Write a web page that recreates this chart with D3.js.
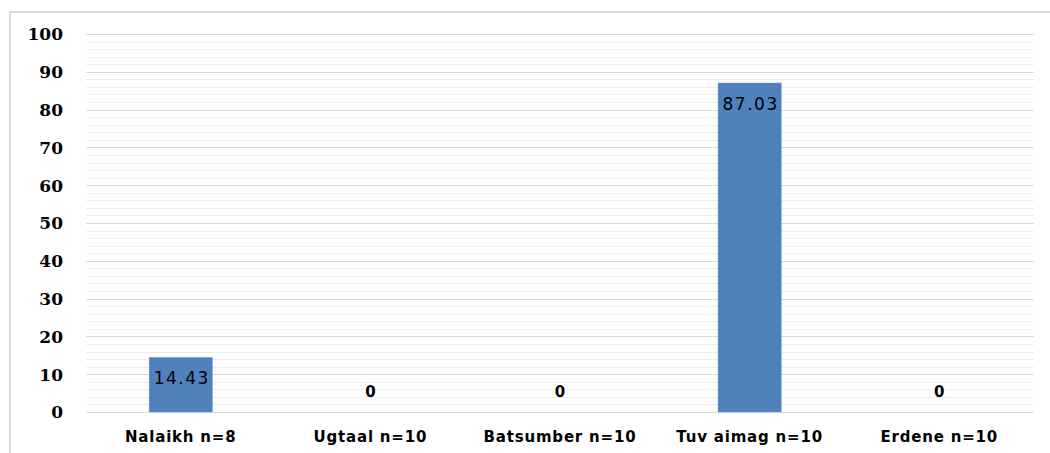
<!DOCTYPE html>
<html><head><meta charset="utf-8">
<script src="https://cdn.jsdelivr.net/npm/d3@7"></script>
<style>body{margin:0;background:#fff;}svg{display:block;}</style>
</head><body>
<svg id="chart" width="1050" height="453"></svg>
<script>
const categories = ["Nalaikh n=8", "Ugtaal n=10", "Batsumber n=10", "Tuv aimag n=10", "Erdene n=10"];
const values = [14.43, 0, 0, 87.03, 0];
const labels = ["14.43", "0", "0", "87.03", "0"];
const yTicks = [0, 10, 20, 30, 40, 50, 60, 70, 80, 90, 100];
const yMinorTicks = d3.range(0, 101, 2);

const svg = d3.select("#chart");
svg.append("rect").attr("x", 10).attr("y", 12).attr("width", 1050).attr("height", 460)
  .attr("fill", "#fff").attr("stroke", "#d9d9d9").attr("stroke-width", 2);

const x = d3.scaleBand().domain(categories).range([86, 1034]).paddingInner(0.667).paddingOuter(0.333);
const y = d3.scaleLinear().domain([0, 100]).range([412, 34]);

svg.append("g").selectAll("line").data(yMinorTicks.filter(v => v % 10 !== 0)).join("line")
  .attr("x1", 86).attr("x2", 1034).attr("y1", d => Math.round(y(d)) + 0.5).attr("y2", d => Math.round(y(d)) + 0.5)
  .attr("stroke", "#ededed").attr("stroke-width", 1);
svg.append("g").selectAll("line").data(yTicks).join("line")
  .attr("x1", 86).attr("x2", 1034).attr("y1", d => Math.round(y(d)) + 0.5).attr("y2", d => Math.round(y(d)) + 0.5)
  .attr("stroke", "#d9d9d9").attr("stroke-width", 1);

const yAxis = d3.axisLeft(y).tickValues(yTicks).tickSize(0).tickPadding(0);
const ga = svg.append("g").attr("transform", "translate(63,0)").call(yAxis);
ga.select(".domain").remove();
ga.selectAll("text").attr("font-family", "DejaVu Serif").attr("font-weight", "bold")
  .attr("font-size", 17).attr("fill", "#000").attr("dy", "0.35em");

svg.append("g").selectAll("rect").data(values).join("rect")
  .attr("x", (d, i) => x(categories[i])).attr("width", x.bandwidth())
  .attr("y", d => y(d)).attr("height", d => y(0) - y(d))
  .attr("fill", "#4f81bd").attr("stroke", "#6a95cc").attr("stroke-width", 0.5);

svg.append("g").selectAll("text").data(values).join("text")
  .attr("x", (d, i) => x(categories[i]) + x.bandwidth() / 2 + (d > 0 ? 1 : 0))
  .attr("y", d => d > 0 ? y(d) + 21 : y(0) - 20)
  .attr("dy", "0.35em").attr("text-anchor", "middle")
  .attr("font-family", "DejaVu Sans")
  .attr("font-size", d => d > 0 ? 17 : 15)
  .attr("font-weight", d => d > 0 ? "normal" : "bold")
  .attr("letter-spacing", d => d > 0 ? 1.5 : 0)
  .attr("fill", "#000").text((d, i) => labels[i]);

const xAxis = d3.axisBottom(x).tickSize(0).tickPadding(0);
const gx = svg.append("g").attr("transform", "translate(0,437)").call(xAxis);
gx.select(".domain").remove();
gx.selectAll("text").attr("font-family", "DejaVu Sans").attr("font-weight", "bold")
  .attr("font-size", 15).attr("letter-spacing", 0.8).attr("fill", "#000").attr("dy", "0.35em");
</script>
</body></html>
